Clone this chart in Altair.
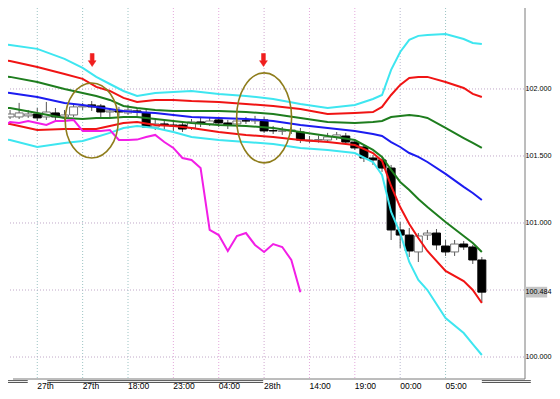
import altair as alt
import pandas as pd

# ---------------- candles (hourly, index 0..52) ----------------
idx = list(range(53))
opens = [101.791, 101.791, 101.799, 101.813, 101.791, 101.821, 101.791, 101.806, 101.866, 101.881,
         101.873, 101.828, 101.836, 101.821, 101.836, 101.821, 101.716, 101.739, 101.731, 101.731,
         101.709, 101.754, 101.739, 101.769, 101.746, 101.739, 101.763, 101.761, 101.769, 101.689,
         101.685, 101.687, 101.679, 101.612, 101.619, 101.619, 101.642, 101.649, 101.604, 101.567,
         101.485, 101.470, 101.410, 100.948, 100.910, 100.784, 100.910, 100.925, 100.828, 100.784,
         100.843, 100.821, 100.724]
highs = [101.843, 101.896, 101.843, 101.858, 101.903, 101.858, 101.843, 101.888, 101.896, 101.910,
         101.888, 101.858, 101.866, 101.881, 101.858, 101.843, 101.769, 101.769, 101.754, 101.754,
         101.776, 101.784, 101.791, 101.791, 101.769, 101.791, 101.791, 101.799, 101.791, 101.724,
         101.716, 101.716, 101.709, 101.649, 101.652, 101.672, 101.679, 101.672, 101.619, 101.582,
         101.507, 101.493, 101.433, 101.007, 100.963, 100.925, 100.948, 100.955, 100.873, 100.873,
         100.866, 100.836, 100.746]
lows = [101.776, 101.776, 101.784, 101.761, 101.769, 101.761, 101.769, 101.791, 101.843, 101.836,
        101.784, 101.791, 101.799, 101.806, 101.799, 101.709, 101.694, 101.694, 101.687, 101.679,
        101.694, 101.716, 101.724, 101.716, 101.701, 101.716, 101.739, 101.739, 101.672, 101.664,
        101.657, 101.664, 101.597, 101.597, 101.600, 101.604, 101.619, 101.582, 101.545, 101.455,
        101.433, 101.381, 100.873, 100.813, 100.746, 100.709, 100.873, 100.799, 100.754, 100.754,
        100.799, 100.694, 100.410]
closes = [101.813, 101.821, 101.813, 101.784, 101.828, 101.791, 101.806, 101.866, 101.873, 101.866,
          101.828, 101.836, 101.828, 101.843, 101.828, 101.716, 101.739, 101.731, 101.724, 101.701,
          101.754, 101.746, 101.761, 101.746, 101.731, 101.761, 101.761, 101.769, 101.687, 101.687,
          101.687, 101.694, 101.619, 101.619, 101.622, 101.642, 101.657, 101.604, 101.560, 101.485,
          101.470, 101.410, 100.948, 100.910, 100.791, 100.903, 100.925, 100.836, 100.784, 100.843,
          100.821, 100.724, 100.484]
lag_shift = 20  # lagging span shift (bars)

# ---------------- bands ----------------
line_idx = [-1, 0, 3, 6, 8, 9.5, 11, 12.5, 14, 16, 18, 20, 23, 26, 29, 32, 35, 38, 40, 41,
            42, 43, 44, 45, 46, 48, 50, 51, 52]
cyan_up = [102.336, 102.328, 102.299, 102.224, 102.157, 102.090, 102.037, 101.985, 101.948, 101.970,
           101.978, 101.985, 101.963, 101.948, 101.925, 101.888, 101.858, 101.881, 101.925, 101.955,
           102.142, 102.276, 102.366, 102.396, 102.403, 102.410, 102.373, 102.343, 102.336]
red_up = [102.216, 102.209, 102.164, 102.112, 102.075, 102.015, 101.985, 101.933, 101.903, 101.918,
          101.918, 101.910, 101.903, 101.888, 101.873, 101.851, 101.813, 101.821, 101.828, 101.866,
          101.955, 102.030, 102.082, 102.090, 102.090, 102.052, 102.007, 101.963, 101.940]
green_up = [102.097, 102.090, 102.052, 102.000, 101.970, 101.948, 101.918, 101.873, 101.858, 101.843,
            101.836, 101.836, 101.836, 101.828, 101.813, 101.784, 101.754, 101.746, 101.754, 101.761,
            101.791, 101.799, 101.806, 101.799, 101.784, 101.709, 101.634, 101.597, 101.560]
blue_mid = [101.978, 101.970, 101.940, 101.896, 101.881, 101.866, 101.851, 101.836, 101.828, 101.821,
            101.806, 101.791, 101.784, 101.776, 101.761, 101.731, 101.709, 101.687, 101.664, 101.649,
            101.604, 101.567, 101.522, 101.493, 101.455, 101.366, 101.269, 101.224, 101.172]
green_lo = [101.858, 101.858, 101.821, 101.784, 101.776, 101.784, 101.784, 101.791, 101.791, 101.776,
            101.761, 101.746, 101.731, 101.724, 101.709, 101.679, 101.649, 101.619, 101.545, 101.493,
            101.396, 101.306, 101.246, 101.179, 101.119, 101.007, 100.903, 100.851, 100.784]
red_lo = [101.746, 101.739, 101.694, 101.701, 101.701, 101.701, 101.724, 101.746, 101.754, 101.731,
          101.724, 101.709, 101.679, 101.657, 101.642, 101.619, 101.604, 101.582, 101.522, 101.463,
          101.276, 101.119, 100.993, 100.888, 100.791, 100.642, 100.567, 100.500, 100.403]
cyan_lo = [101.627, 101.619, 101.567, 101.597, 101.612, 101.642, 101.672, 101.709, 101.724, 101.709,
           101.679, 101.642, 101.619, 101.604, 101.590, 101.560, 101.545, 101.522, 101.455, 101.358,
           101.082, 100.925, 100.709, 100.575, 100.500, 100.291, 100.179, 100.097, 100.015]

band_names = ["cyan_up", "red_up", "green_up", "blue_mid", "green_lo", "red_lo", "cyan_lo"]
band_series = [cyan_up, red_up, green_up, blue_mid, green_lo, red_lo, cyan_lo]
band_colors = ["#3ee6f0", "#f01414", "#1e7d1e", "#1c1cf0", "#1e7d1e", "#f01414", "#3ee6f0"]

# ---------------- axes / annotations ----------------
grid_x = [3, 8, 13, 18, 23, 28, 33, 38, 43, 48]
grid_x_labels = ["27th", "27th", "18:00", "23:00", "04:00", "28th", "14:00", "19:00", "00:00", "05:00"]
grid_x_colors = ["#9cc4c4", "#9cc4c4", "#9cc4c4", "#e4a8dc", "#e4a8dc", "#d0a8d0",
                 "#e4a8dc", "#e4a8dc", "#b8b8d0", "#9cc4c4"]
grid_y = [100.0, 100.5, 101.0, 101.5, 102.0]
y_labels = [100.0, 101.0, 101.5, 102.0]
last_price = 100.484
x_label_price = 99.784          # price level on which the time labels sit (below the plot)

ellipse_idx = [9.0, 28.0]
ellipse_price = [101.765, 101.784]
arrow_idx = [9.05, 27.93]
arrow_price = [102.216, 102.216]

# decorative scroll bars under the plot (index from, index to) at two price levels
bar_from = [-0.6, 4.1, 52.0]
bar_to = [1.95, 27.9, 57.4]
bar_price = [99.824, 99.810]

X_DOM = [0.324, 56.757]
Y_DOM = [99.836, 102.604]
FONT = "Liberation Sans Narrow, Liberation Sans, sans-serif"

xs = alt.Scale(domain=X_DOM, nice=False, zero=False)
ys = alt.Scale(domain=Y_DOM, nice=False, zero=False)
xq = alt.X("i:Q", scale=xs, axis=None)


def yq(f):
    return alt.Y(f, scale=ys, axis=None)


candles = pd.DataFrame({"i": idx, "o": opens, "h": highs, "l": lows, "c": closes})

rows = []
for name, ser in zip(band_names, band_series):
    for xi, v in zip(line_idx, ser):
        rows.append({"band": name, "i": xi, "p": v})
bands = pd.DataFrame(rows)

vgrid = alt.Chart(pd.DataFrame({"i": grid_x, "col": grid_x_colors})).mark_rule(
    strokeDash=[1, 2], strokeWidth=1).encode(
    x=xq, color=alt.Color("col:N", scale=None))

hgrid = alt.Chart(pd.DataFrame({"p": grid_y})).mark_rule(
    strokeDash=[1, 2], strokeWidth=1, color="#c0a8c8").encode(y=yq("p:Q"))

frame = alt.Chart(pd.DataFrame({"i": [X_DOM[1]], "p": [Y_DOM[0]], "i0": [X_DOM[0]], "p1": [Y_DOM[1]]}))
border_r = frame.mark_rule(color="#7a7a7a", strokeWidth=1).encode(x=xq, y=yq("p:Q"), y2="p1:Q")
border_b = frame.mark_rule(color="#7a7a7a", strokeWidth=1).encode(
    x=alt.X("i0:Q", scale=xs, axis=None), x2="i:Q", y=yq("p:Q"))

wicks = alt.Chart(candles).mark_rule(strokeWidth=1, color="#555555", clip=True).encode(
    x=xq, y=yq("l:Q"), y2="h:Q")

bodies = alt.Chart(candles).mark_bar(size=8, strokeWidth=1, clip=True).encode(
    x=xq, y=yq("o:Q"), y2="c:Q",
    fill=alt.condition("datum.c >= datum.o", alt.value("#ffffff"), alt.value("#000000")),
    stroke=alt.condition("datum.c >= datum.o", alt.value("#707070"), alt.value("#000000")),
)

band_lines = alt.Chart(bands).mark_line(strokeWidth=2, clip=True).encode(
    x=xq, y=yq("p:Q"),
    color=alt.Color("band:N", scale=alt.Scale(domain=band_names, range=band_colors), legend=None),
    detail="band:N",
)

lagging = alt.Chart(candles).transform_calculate(
    lag="datum.i - %d" % lag_shift).mark_line(strokeWidth=2, color="#f21ee6", clip=True).encode(
    x=alt.X("lag:Q", scale=xs, axis=None), y=yq("c:Q"))

ell_df = pd.DataFrame({"i": ellipse_idx, "p": ellipse_price})
ell1 = alt.Chart(ell_df.iloc[[0]]).mark_point(
    shape="M0,-1 A0.707,1 0 1,1 0,1 A0.707,1 0 1,1 0,-1 Z", size=5625, filled=False,
    stroke="#8f7d1c", strokeWidth=1.6, opacity=1).encode(x=xq, y=yq("p:Q"))
ell2 = alt.Chart(ell_df.iloc[[1]]).mark_point(
    shape="M0,-1 A0.611,1 0 1,1 0,1 A0.611,1 0 1,1 0,-1 Z", size=8100, filled=False,
    stroke="#8f7d1c", strokeWidth=1.6, opacity=1).encode(x=xq, y=yq("p:Q"))

arrows = alt.Chart(pd.DataFrame({"i": arrow_idx, "p": arrow_price})).mark_point(
    shape="M-0.3,-1 L0.3,-1 L0.3,0.1 L0.6,0.1 L0,1 L-0.6,0.1 L-0.3,0.1 Z",
    size=169, filled=True, fill="#f01e1e", stroke="#f01e1e", strokeWidth=0.5, opacity=1).encode(
    x=xq, y=yq("p:Q"))

bar_rows = []
for a, b in zip(bar_from, bar_to):
    for pp in bar_price:
        bar_rows.append({"a": a, "b": b, "p": pp})
scroll = alt.Chart(pd.DataFrame(bar_rows)).mark_rule(color="#555555", strokeWidth=1).encode(
    x=alt.X("a:Q", scale=xs, axis=None), x2="b:Q", y=yq("p:Q"))

# time labels (left-aligned on their grid lines)
xlab = alt.Chart(pd.DataFrame({"i": grid_x, "t": grid_x_labels, "p": [x_label_price] * len(grid_x)})
                 ).mark_text(align="left", baseline="middle", fontSize=8.5, font=FONT,
                             color="#000000").encode(x=xq, y=yq("p:Q"), text="t:N")

# price labels on the right
ylab = alt.Chart(pd.DataFrame({"p": y_labels, "i": [X_DOM[1]] * len(y_labels),
                               "t": ["%.3f" % v for v in y_labels]})
                 ).mark_text(align="left", baseline="middle", fontSize=7.2, font=FONT,
                             color="#000000", dx=0.5).encode(x=xq, y=yq("p:Q"), text="t:N")

lp = pd.DataFrame({"a": [56.76], "b": [59.2], "p": [last_price],
                   "lo": [last_price - 0.040], "hi": [last_price + 0.040],
                   "t": ["%.3f" % last_price]})
lp_box = alt.Chart(lp).mark_rect(color="#c4c4c4").encode(
    x=alt.X("a:Q", scale=xs, axis=None), x2="b:Q", y=yq("lo:Q"), y2="hi:Q")
lp_text = alt.Chart(lp).mark_text(align="left", baseline="middle", fontSize=7.2, font=FONT,
                                  color="#000000", dx=0.5).encode(
    x=alt.X("a:Q", scale=xs, axis=None), y=yq("p:Q"), text="t:N")

chart = alt.layer(
    vgrid, hgrid, wicks, bodies, band_lines, lagging, ell1, ell2, arrows,
    border_r, border_b, scroll, xlab, lp_box, ylab, lp_text
).properties(
    width=522, height=371,
    autosize="none",
    padding={"left": 0, "top": 0, "right": 22, "bottom": 11},
    background="#ffffff",
).configure_view(stroke=None)

chart.save("out.html", embed_options={"renderer": "svg", "actions": False})
